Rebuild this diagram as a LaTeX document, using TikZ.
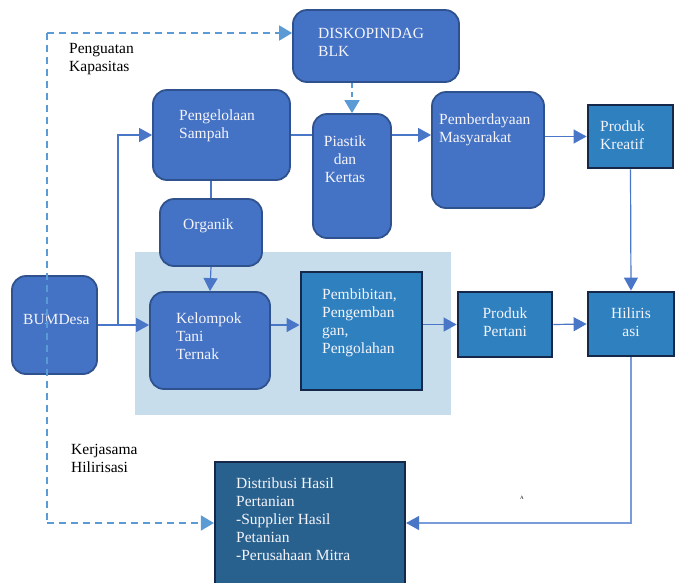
\documentclass[tikz,border=0pt]{standalone}
\usepackage{fontspec}
\setmainfont{Liberation Serif}
\usetikzlibrary{arrows.meta}
\definecolor{rfill}{HTML}{4472C4}
\definecolor{rdraw}{HTML}{2F528F}
\definecolor{sfill}{HTML}{2F80BF}
\definecolor{sdraw}{HTML}{15284A}
\definecolor{dfill}{HTML}{28618E}
\definecolor{bgl}{HTML}{C8DDEB}
\definecolor{lcol}{HTML}{4A76C8}
\definecolor{llight}{HTML}{7A9BDA}
\definecolor{dcol}{HTML}{5B9BD5}
\definecolor{tcol}{HTML}{F4F4FA}
\tikzset{
  rbox/.style={draw=rdraw, fill=rfill, line width=1.8pt, rounded corners=14pt, inner sep=0pt},
  sbox/.style={draw=sdraw, fill=sfill, line width=2.8pt, inner sep=0pt},
  dbox/.style={draw=sdraw, fill=dfill, line width=2.2pt, inner sep=0pt},
  wtxt/.style={text=tcol, inner sep=0pt, font=\fontsize{15.5}{18}\selectfont},
  btxt/.style={text=black, inner sep=0pt, font=\fontsize{15.5}{18}\selectfont},
  conn/.style={draw=lcol, line width=1.2pt},
  arr/.style={-{Triangle[length=13pt,width=14pt]}},
  dconn/.style={draw=dcol, line width=1.8pt, dash pattern=on 7pt off 5pt},
}
\begin{document}
\begin{tikzpicture}[x=1pt,y=-1pt]
\useasboundingbox (0,0) rectangle (681,582);
% background panel
\fill[bgl] (135,252) rectangle (451,415);
% boxes
\node[rbox, minimum width=166pt, minimum height=72pt] (disk) at (376,46) {};
\node[rbox, minimum width=137pt, minimum height=90pt] (peng) at (221.5,135) {};
\node[rbox, minimum width=78pt, minimum height=124pt] (plas) at (352,176) {};
\node[rbox, minimum width=112pt, minimum height=116pt] (pem) at (488,150) {};
\node[sbox, minimum width=85pt, minimum height=63pt] (kre) at (630.5,136.5) {};
\node[rbox, minimum width=102pt, minimum height=67pt] (org) at (211,232.5) {};
\node[rbox, minimum width=85pt, minimum height=98pt] (bum) at (54.5,325) {};
\node[rbox, minimum width=120pt, minimum height=97pt] (kel) at (210,340.5) {};
\node[sbox, minimum width=121pt, minimum height=118pt] (pbb) at (361.5,331) {};
\node[sbox, minimum width=94pt, minimum height=65pt] (ppt) at (505,324.5) {};
\node[sbox, minimum width=86pt, minimum height=64pt] (hil) at (631,324) {};
\node[dbox, minimum width=190pt, minimum height=122pt] (dist) at (310,523) {};
% texts
\node[wtxt, anchor=north west, align=left] at (318,28.5) {DISKOPINDAG\\BLK};
\node[wtxt, anchor=north west, align=left] at (179,109.5) {Pengelolaan\\Sampah};
\node[wtxt, anchor=north, align=center] at (345,135.5) {Piastik\\dan\\Kertas};
\node[wtxt, anchor=north west, align=left] at (439,113.5) {Pemberdayaan\\Masyarakat};
\node[wtxt, anchor=north west, align=left] at (600,121) {Produk\\Kreatif};
\node[wtxt, anchor=north west, align=left] at (183,218.5) {Organik};
\node[wtxt, anchor=north west, align=left] at (23,314.5) {BUMDesa};
\node[wtxt, anchor=north west, align=left] at (176,312.5) {Kelompok\\Tani\\Ternak};
\node[wtxt, anchor=north west, align=left] at (322,288.5) {Pembibitan,\\Pengemban\\gan,\\Pengolahan};
\node[wtxt, anchor=north, align=center] at (505,307.5) {Produk\\Pertani};
\node[wtxt, anchor=north, align=center] at (631,307.5) {Hiliris\\asi};
\node[wtxt, anchor=north west, align=left] at (236,477.5) {Distribusi Hasil\\Pertanian\\-Supplier Hasil\\Petanian\\-Perusahaan Mitra};
\node[btxt, anchor=north west, align=left] at (69,43.5) {Penguatan\\Kapasitas};
\node[btxt, anchor=north west, align=left] at (71,444.5) {Kerjasama\\Hilirisasi};
\node[text=black, inner sep=0pt, font=\fontsize{5}{6}\selectfont] (mark) at (522,498) {A};
% solid connectors
\coordinate (br) at (118,325);
\draw[conn, arr] (bum.east) -- (kel.west |- bum.east);
\draw[conn, arr] (br) |- (peng.west);
\draw[conn] (peng.east) -- (peng.east -| plas.west);
\draw[conn, arr] (peng.east -| plas.east) -- (peng.east -| pem.west);
\draw[conn, arr] (pem.east |- kre.west) -- (kre.west);
\draw[conn] (org.north |- peng.south) -- (org.north);
\draw[conn, arr] (org.south) -- (kel.north);
\draw[conn, arr] (kel.east |- bum.east) -- (pbb.west |- bum.east);
\draw[conn, arr] (pbb.east |- ppt.west) -- (ppt.west);
\draw[conn, arr] (ppt.east) -- (hil.west);
\draw[conn, arr] (kre.south) -- (hil.north);
\draw[draw=llight, line width=1.2pt] (hil.south) |- ([xshift=12pt]dist.east);
\draw[conn, arr] ([xshift=12pt]dist.east) -- (dist.east);
% dashed connectors
\coordinate (dtop) at (47,33);
\coordinate (dbot) at (47,523);
\draw[dconn] (dtop) -- (dbot);
\draw[dconn, -{Triangle[length=13pt,width=15pt]}, dcol] (dtop) -- (dtop -| disk.west);
\draw[dconn, -{Triangle[length=13pt,width=15pt]}, dcol] (dbot) -- (dist.west);
\draw[dconn, dash pattern=on 5pt off 4pt, -{Triangle[length=13pt,width=15pt]}, dcol] (plas.north |- disk.south) -- (plas.north);
\end{tikzpicture}
\end{document}
